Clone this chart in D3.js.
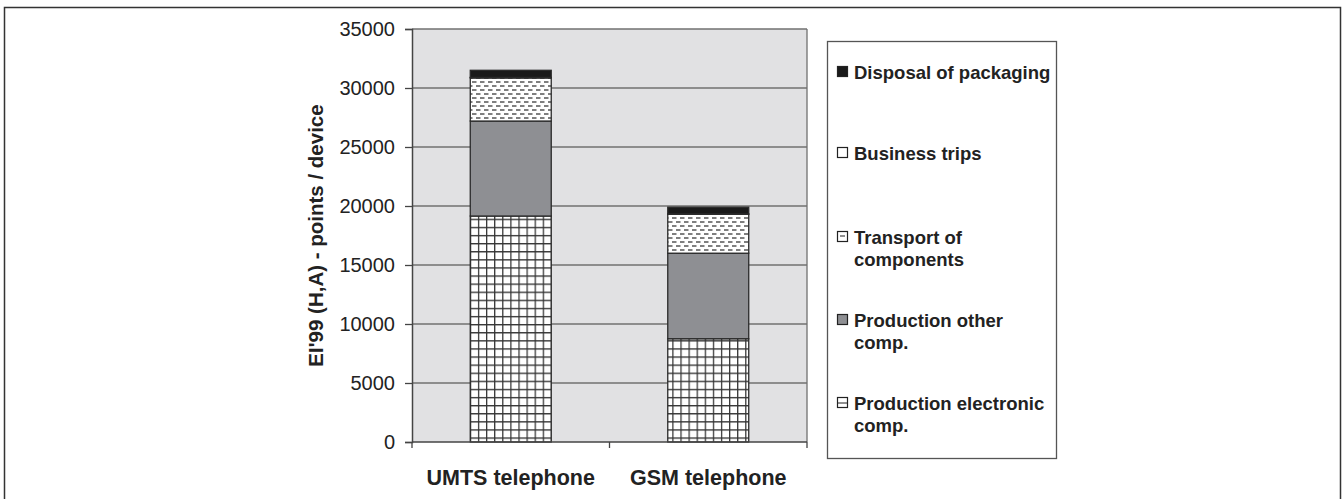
<!DOCTYPE html>
<html>
<head>
<meta charset="utf-8">
<script src="https://cdn.jsdelivr.net/npm/d3@7"></script>
<style>
  body { margin: 0; background: #fff; }
  text { font-family: "Liberation Sans", Arial, sans-serif; fill: #222; }
</style>
</head>
<body>
<div id="chart"></div>
<script>
// data
let categories = ["UMTS telephone", "GSM telephone"];
let electronic = [19150, 8750];
let otherComp = [8050, 7250];
let transport = [3650, 3300];
let business = [50, 30];
let packaging = [600, 570];
let yTicks = [0, 5000, 10000, 15000, 20000, 25000, 30000, 35000];

let seriesNames = ["Production electronic comp.", "Production other comp.", "Transport of components", "Business trips", "Disposal of packaging"];
let seriesValues = [electronic, otherComp, transport, business, packaging];

let width = 1343, height = 499;

let svg = d3.select("#chart").append("svg")
    .attr("width", width)
    .attr("height", height);

// patterns
let defs = svg.append("defs");
let grid = defs.append("pattern")
    .attr("id", "grid")
    .attr("patternUnits", "userSpaceOnUse")
    .attr("width", 8.1).attr("height", 8.1);
grid.append("rect").attr("width", 8.1).attr("height", 8.1).attr("fill", "#fff");
grid.append("path").attr("d", "M0.6,0V8.1M0,0.6H8.1")
    .attr("stroke", "#333").attr("stroke-width", 1.3);

let dash = defs.append("pattern")
    .attr("id", "dash")
    .attr("patternUnits", "userSpaceOnUse")
    .attr("width", 8).attr("height", 8);
dash.append("rect").attr("width", 8).attr("height", 8).attr("fill", "#fff");
dash.append("path").attr("d", "M0,2H4.5M4,6H8.5M-1,6H0.5")
    .attr("stroke", "#555").attr("stroke-width", 1.4);

let fills = ["url(#grid)", "#8e8f93", "url(#dash)", "#fff", "#1a1a1a"];

// outer frame
svg.append("rect")
    .attr("x", 4.5).attr("y", 7.5)
    .attr("width", 1336).attr("height", 520)
    .attr("fill", "none").attr("stroke", "#333").attr("stroke-width", 1.5);

let mLeft = 412, mRight = 807, mTop = 29, mBottom = 442;

let y = d3.scaleLinear().domain([0, 35000]).range([mBottom, mTop]);
let x = d3.scaleBand().domain(categories).range([mLeft, mRight]).padding(0);
let barW = x.bandwidth() * 0.41;

// plot background
svg.append("rect")
    .attr("x", mLeft).attr("y", mTop)
    .attr("width", mRight - mLeft).attr("height", mBottom - mTop)
    .attr("fill", "#e1e1e3");

// gridlines
svg.append("g").selectAll("line")
    .data(yTicks.filter(d => d > 0))
    .enter().append("line")
    .attr("x1", mLeft).attr("x2", mRight)
    .attr("y1", d => y(d)).attr("y2", d => y(d))
    .attr("stroke", "#707070").attr("stroke-width", 1.3);

// right border
svg.append("line")
    .attr("x1", mRight).attr("x2", mRight)
    .attr("y1", mTop).attr("y2", mBottom)
    .attr("stroke", "#707070").attr("stroke-width", 1.3);

// stacked bars
let stacked = categories.map((c, i) => {
  let acc = 0;
  return seriesValues.map((s, k) => {
    let seg = { cat: c, k: k, y0: acc, y1: acc + s[i] };
    acc += s[i];
    return seg;
  });
});

let bars = svg.append("g");
stacked.forEach(segs => {
  bars.selectAll(null)
      .data(segs)
      .enter().append("rect")
      .attr("x", d => x(d.cat) + (x.bandwidth() - barW) / 2)
      .attr("y", d => y(d.y1))
      .attr("width", barW)
      .attr("height", d => y(d.y0) - y(d.y1))
      .attr("fill", d => fills[d.k])
      .attr("stroke", "#2a2a2a")
      .attr("stroke-width", 1.3);
});

// y axis
let yAxis = d3.axisLeft(y).tickValues(yTicks).tickSize(7).tickPadding(10).tickFormat(d3.format("d"));
let gy = svg.append("g").attr("transform", `translate(${mLeft},0)`).call(yAxis);
gy.select(".domain").attr("stroke", "#444").attr("stroke-width", 1.5);
gy.selectAll(".tick line").attr("stroke", "#444").attr("stroke-width", 1.3);
gy.selectAll(".tick text")
    .style("font-family", "'Liberation Sans', Arial, sans-serif")
    .style("font-size", "20px").attr("fill", "#222");

// x axis
svg.append("line")
    .attr("x1", mLeft).attr("x2", mRight)
    .attr("y1", mBottom).attr("y2", mBottom)
    .attr("stroke", "#444").attr("stroke-width", 1.5);
svg.append("g").selectAll("line")
    .data([mLeft, x(categories[1]), mRight])
    .enter().append("line")
    .attr("x1", d => d).attr("x2", d => d)
    .attr("y1", mBottom).attr("y2", mBottom + 6)
    .attr("stroke", "#444").attr("stroke-width", 1.3);
svg.append("g").selectAll("text")
    .data(categories)
    .enter().append("text")
    .attr("x", d => x(d) + x.bandwidth() / 2)
    .attr("y", 485)
    .attr("text-anchor", "middle")
    .style("font-size", "21.5px").style("font-weight", "bold")
    .text(d => d);

// y title
svg.append("text")
    .attr("transform", `translate(323,${(mTop + mBottom) / 2}) rotate(-90)`)
    .attr("text-anchor", "middle")
    .style("font-size", "20.5px").style("font-weight", "bold")
    .text("EI'99 (H,A) - points / device");

// legend
svg.append("rect")
    .attr("x", 827.5).attr("y", 41.5)
    .attr("width", 229).attr("height", 417)
    .attr("fill", "#fff").attr("stroke", "#555").attr("stroke-width", 1.3);

let legendItems = [
  { k: 4, lines: ["Disposal of packaging"], yc: 72 },
  { k: 3, lines: ["Business trips"], yc: 153 },
  { k: 2, lines: ["Transport of", "components"], yc: 237 },
  { k: 1, lines: ["Production other", "comp."], yc: 320 },
  { k: 0, lines: ["Production electronic", "comp."], yc: 403 }
];

let lg = svg.append("g").selectAll("g")
    .data(legendItems)
    .enter().append("g");
lg.append("rect")
    .attr("x", 837.5).attr("y", d => d.yc - 5.5)
    .attr("width", 10).attr("height", 10)
    .attr("fill", d => d.k === 0 ? "#fff" : (d.k === 2 ? "#fff" : fills[d.k]))
    .attr("stroke", "#222").attr("stroke-width", 1.2);
lg.filter(d => d.k === 0).append("line")
    .attr("x1", 837.5).attr("x2", 847.5)
    .attr("y1", d => d.yc).attr("y2", d => d.yc)
    .attr("stroke", "#222").attr("stroke-width", 1);
lg.filter(d => d.k === 2).append("line")
    .attr("x1", 840).attr("x2", 845)
    .attr("y1", d => d.yc - 1).attr("y2", d => d.yc - 1)
    .attr("stroke", "#222").attr("stroke-width", 1);
lg.each(function(d) {
  let g = d3.select(this);
  d.lines.forEach((t, i) => {
    g.append("text")
        .attr("x", 854)
        .attr("y", d.yc + 6.5 + i * 22.5)
        .style("font-size", "18.5px").style("font-weight", "bold")
        .text(t);
  });
});
</script>
</body>
</html>
